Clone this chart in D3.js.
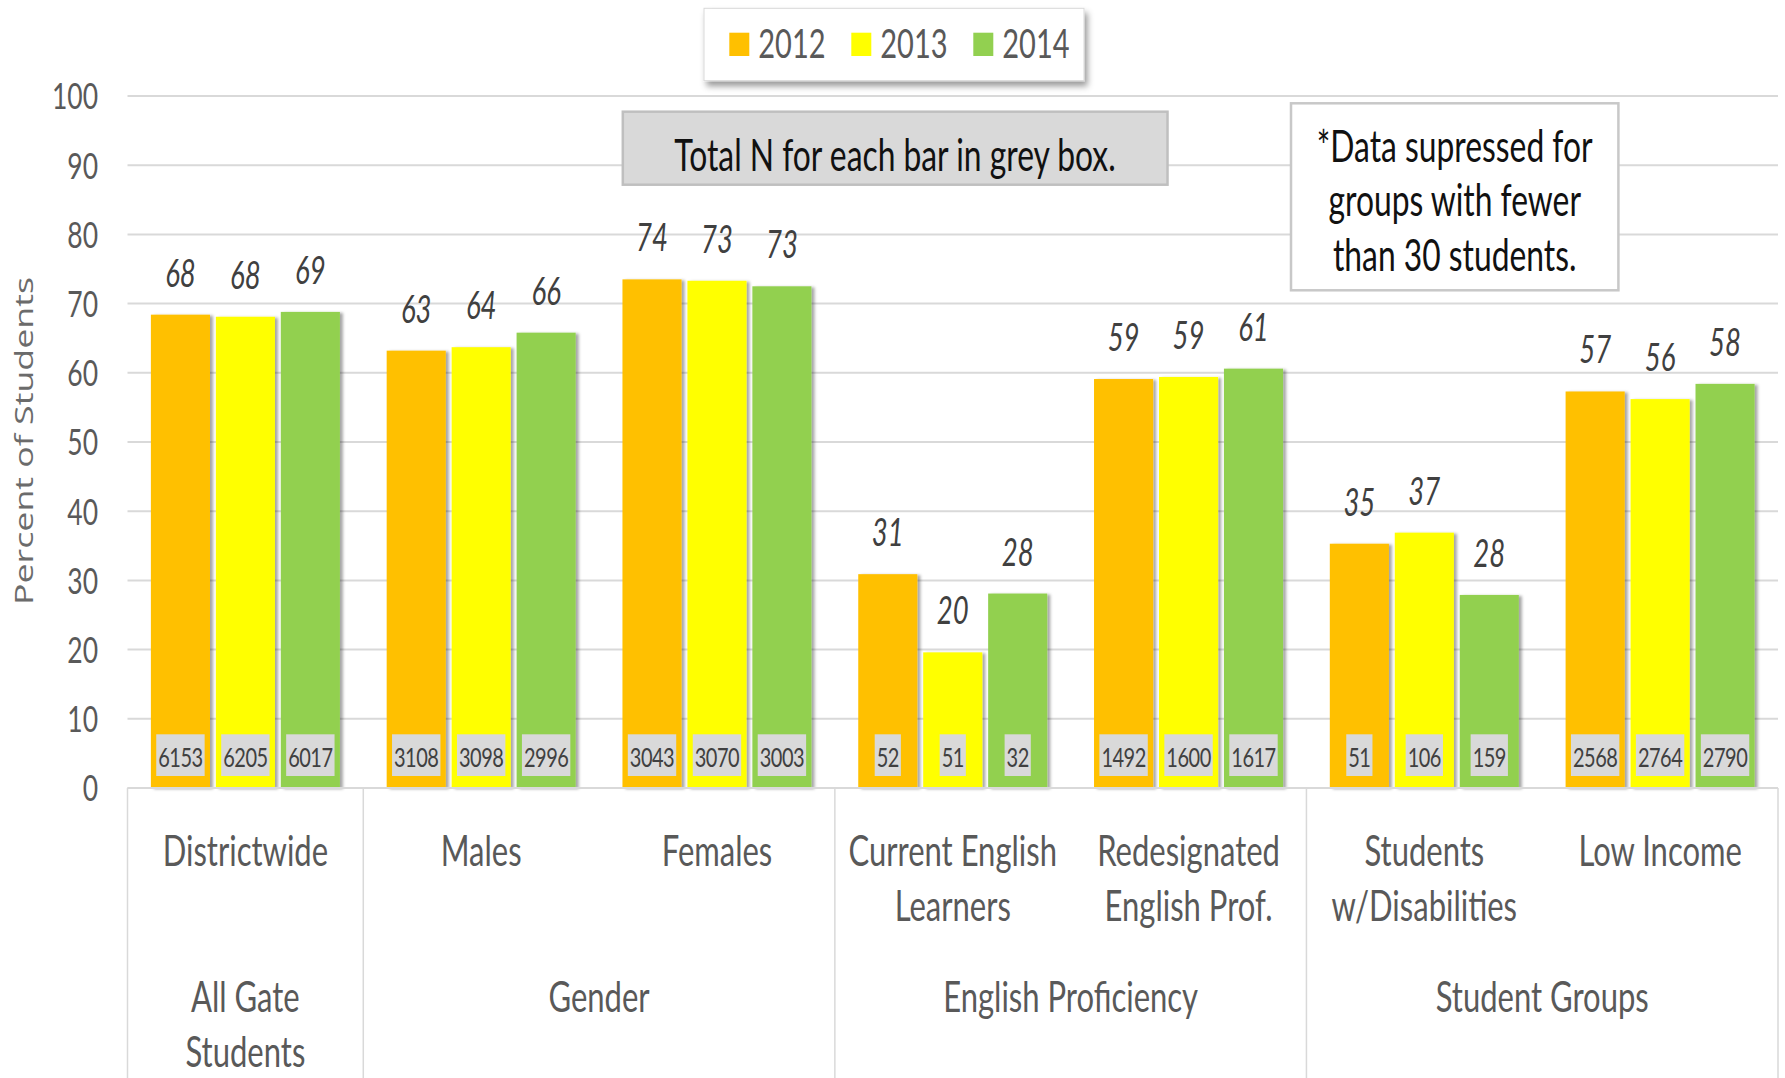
<!DOCTYPE html>
<html>
<head>
<meta charset="utf-8">
<script src="https://cdn.jsdelivr.net/npm/d3@7"></script>
<style>
  body { margin: 0; background: #fff; }
  svg { display: block; }
</style>
</head>
<body>
<div id="chart"></div>
<script>
// data
const years = ["2012", "2013", "2014"]
const categories = ["Districtwide", "Males", "Females", "Current English Learners",
                    "Redesignated English Prof.", "Students w/Disabilities", "Low Income"]
const catLines = [["Districtwide"], ["Males"], ["Females"], ["Current English", "Learners"],
                  ["Redesignated", "English Prof."], ["Students", "w/Disabilities"], ["Low Income"]]
const groups = [["All Gate", "Students"], ["Gender"], ["English Proficiency"], ["Student Groups"]]
const groupSizes = [1, 2, 2, 2]
const pct2012 = [68.4, 63.2, 73.5, 30.9, 59.1, 35.3, 57.3]
const pct2013 = [68.1, 63.7, 73.3, 19.6, 59.4, 36.9, 56.2]
const pct2014 = [68.8, 65.8, 72.5, 28.1, 60.6, 27.9, 58.4]
const n2012 = [6153, 3108, 3043, 52, 1492, 51, 2568]
const n2013 = [6205, 3098, 3070, 51, 1600, 106, 2764]
const n2014 = [6017, 2996, 3003, 32, 1617, 159, 2790]
const yTicks = [0, 10, 20, 30, 40, 50, 60, 70, 80, 90, 100]
const colors = ["#ffc000", "#ffff00", "#92d050"]

const pcts = [pct2012, pct2013, pct2014]
const ns = [n2012, n2013, n2014]
const rows = categories.map((c, i) => ({
    cat: c,
    lines: catLines[i],
    vals: years.map((y, j) => ({year: y, pct: pcts[j][i], n: ns[j][i]}))
}))

var width = 1785,
    height = 1078,
    left = 127.5,
    right = 1778,
    font = "Lato, 'Open Sans', sans-serif",
    SY = 1.38   // the original picture is stretched vertically

var svg = d3.select("#chart")
            .append("svg")
            .attr("width", width)
            .attr("height", height)
            .attr("font-family", font)

var defs = svg.append("defs")
var barShadow = defs.append("filter").attr("id", "barShadow")
                    .attr("x", "-20%").attr("y", "-5%").attr("width", "140%").attr("height", "110%")
barShadow.append("feDropShadow").attr("dx", 3).attr("dy", 1).attr("stdDeviation", 1.5)
         .attr("flood-color", "#000").attr("flood-opacity", 0.35)
var boxShadow = defs.append("filter").attr("id", "boxShadow")
                    .attr("x", "-10%").attr("y", "-20%").attr("width", "120%").attr("height", "150%")
boxShadow.append("feDropShadow").attr("dx", 3).attr("dy", 5).attr("stdDeviation", 3)
         .attr("flood-color", "#000").attr("flood-opacity", 0.4)

var y = d3.scaleLinear().domain([0, 100]).range([788, 96])

var x0 = d3.scaleBand()
           .domain(categories)
           .range([left, right])

var x1 = d3.scaleBand()
           .domain(years)
           .range([0, x0.bandwidth()])
           .paddingInner(0.09)
           .paddingOuter(0.36)

var color = d3.scaleOrdinal().domain(years).range(colors)

function stretched(x, yy) {
    return "translate(" + x + "," + yy + ") scale(1," + SY + ")"
}

// gridlines
svg.append("g")
   .selectAll("line")
   .data(yTicks)
   .enter().append("line")
   .attr("x1", left).attr("x2", right)
   .attr("y1", d => y(d)).attr("y2", d => y(d))
   .attr("stroke", "#d9d9d9")
   .attr("stroke-width", 2)

// y tick labels
svg.append("g")
   .selectAll("text")
   .data(yTicks)
   .enter().append("text")
   .attr("transform", d => stretched(98, y(d) + 13.3))
   .attr("text-anchor", "end")
   .attr("font-size", "26.5px")
   .attr("fill", "#595959")
   .text(d => d)

// y axis title
svg.append("text")
   .attr("transform", "translate(33,441) rotate(-90) scale(1.43,1)")
   .attr("text-anchor", "middle")
   .attr("font-family", "'Open Sans', sans-serif")
   .attr("font-size", "25px")
   .attr("fill", "#6b6b6b")
   .text("Percent of Students")

// bars
var cat = svg.append("g")
             .selectAll("g")
             .data(rows)
             .enter().append("g")
             .attr("transform", d => "translate(" + x0(d.cat) + ",0)")

cat.selectAll("rect")
   .data(d => d.vals)
   .enter().append("rect")
   .attr("x", d => x1(d.year))
   .attr("y", d => y(d.pct))
   .attr("width", x1.bandwidth())
   .attr("height", d => y(0) - y(d.pct))
   .attr("fill", d => color(d.year))
   .attr("filter", "url(#barShadow)")

// value labels
cat.selectAll("text.val")
   .data(d => d.vals)
   .enter().append("text")
   .attr("class", "val")
   .attr("transform", d => stretched(x1(d.year) + x1.bandwidth() / 2, y(d.pct) - 28))
   .attr("text-anchor", "middle")
   .attr("font-size", "27.5px")
   .attr("font-style", "italic")
   .attr("fill", "#404040")
   .text(d => Math.round(d.pct))

// N labels in grey boxes
cat.each(function(d) {
    var g = d3.select(this)
    d.vals.forEach(v => {
        var cx = x1(v.year) + x1.bandwidth() / 2
        var box = g.append("rect")
        var t = g.append("text")
                 .attr("transform", stretched(cx, 766.7))
                 .attr("text-anchor", "middle")
                 .attr("font-size", "20px")
                 .attr("letter-spacing", "-0.5px")
                 .attr("fill", "#404040")
                 .text(v.n)
        var w = t.node().getComputedTextLength() + 4
        box.attr("x", cx - w / 2).attr("y", 734.3)
           .attr("width", w).attr("height", 41.7)
           .attr("fill", "#d9d9d9")
    })
})

// category axis
svg.append("line")
   .attr("x1", left).attr("x2", right)
   .attr("y1", y(0)).attr("y2", y(0))
   .attr("stroke", "#d9d9d9").attr("stroke-width", 2)

var starts = [0]
groupSizes.forEach((s, i) => starts.push(starts[i] + s))
var edges = starts.map(i => i < categories.length ? x0(categories[i]) : right)

svg.append("g")
   .selectAll("line")
   .data(edges)
   .enter().append("line")
   .attr("x1", d => d).attr("x2", d => d)
   .attr("y1", y(0)).attr("y2", height)
   .attr("stroke", "#d9d9d9").attr("stroke-width", 1.5)

var sub = svg.append("g")
             .selectAll("g")
             .data(rows)
             .enter().append("g")

sub.selectAll("text")
   .data(d => d.lines.map((l, k) => ({line: l, k: k, cx: x0(d.cat) + x0.bandwidth() / 2})))
   .enter().append("text")
   .attr("transform", d => stretched(d.cx, 865.5 + d.k * 55))
   .attr("text-anchor", "middle")
   .attr("font-size", "31px")
   .attr("fill", "#595959")
   .text(d => d.line)

var grp = svg.append("g")
             .selectAll("g")
             .data(groups)
             .enter().append("g")

grp.selectAll("text")
   .data((d, i) => d.map((l, k) => ({line: l, k: k, cx: (edges[i] + edges[i + 1]) / 2})))
   .enter().append("text")
   .attr("transform", d => stretched(d.cx, 1012 + d.k * 55))
   .attr("text-anchor", "middle")
   .attr("font-size", "31px")
   .attr("fill", "#595959")
   .text(d => d.line)

// legend
var legend = svg.append("g").attr("transform", "translate(704,8.3)")
legend.append("rect")
      .attr("width", 380).attr("height", 72.4)
      .attr("fill", "#fff")
      .attr("stroke", "#d9d9d9").attr("stroke-width", 1)
      .attr("filter", "url(#boxShadow)")

var item = legend.selectAll("g")
                 .data(years)
                 .enter().append("g")
                 .attr("transform", (d, i) => "translate(" + (25.3 + i * 122) + ",0)")
item.append("rect")
    .attr("y", 24.4).attr("width", 20).attr("height", 23.3)
    .attr("fill", d => color(d))
item.append("text")
    .attr("transform", stretched(29, 50))
    .attr("font-size", "29px")
    .attr("fill", "#595959")
    .text(d => d)

// note boxes
svg.append("rect")
   .attr("x", 622.8).attr("y", 111.7)
   .attr("width", 544.7).attr("height", 73)
   .attr("fill", "#d9d9d9")
   .attr("stroke", "#bfbfbf").attr("stroke-width", 2.5)
svg.append("text")
   .attr("transform", stretched(895, 171))
   .attr("text-anchor", "middle")
   .attr("font-size", "31.8px")
   .attr("fill", "#111")
   .text("Total N for each bar in grey box.")

svg.append("rect")
   .attr("x", 1291).attr("y", 103.3)
   .attr("width", 327.4).attr("height", 187)
   .attr("fill", "#fff")
   .attr("stroke", "#c8c8c8").attr("stroke-width", 2.5)

var note = ["*Data supressed for", "groups with fewer", "than 30 students."]
svg.append("g")
   .selectAll("text")
   .data(note)
   .enter().append("text")
   .attr("transform", (d, i) => stretched(1454.7, 161.5 + i * 54.5))
   .attr("text-anchor", "middle")
   .attr("font-size", "31.8px")
   .attr("fill", "#111")
   .text(d => d)
</script>
</body>
</html>
